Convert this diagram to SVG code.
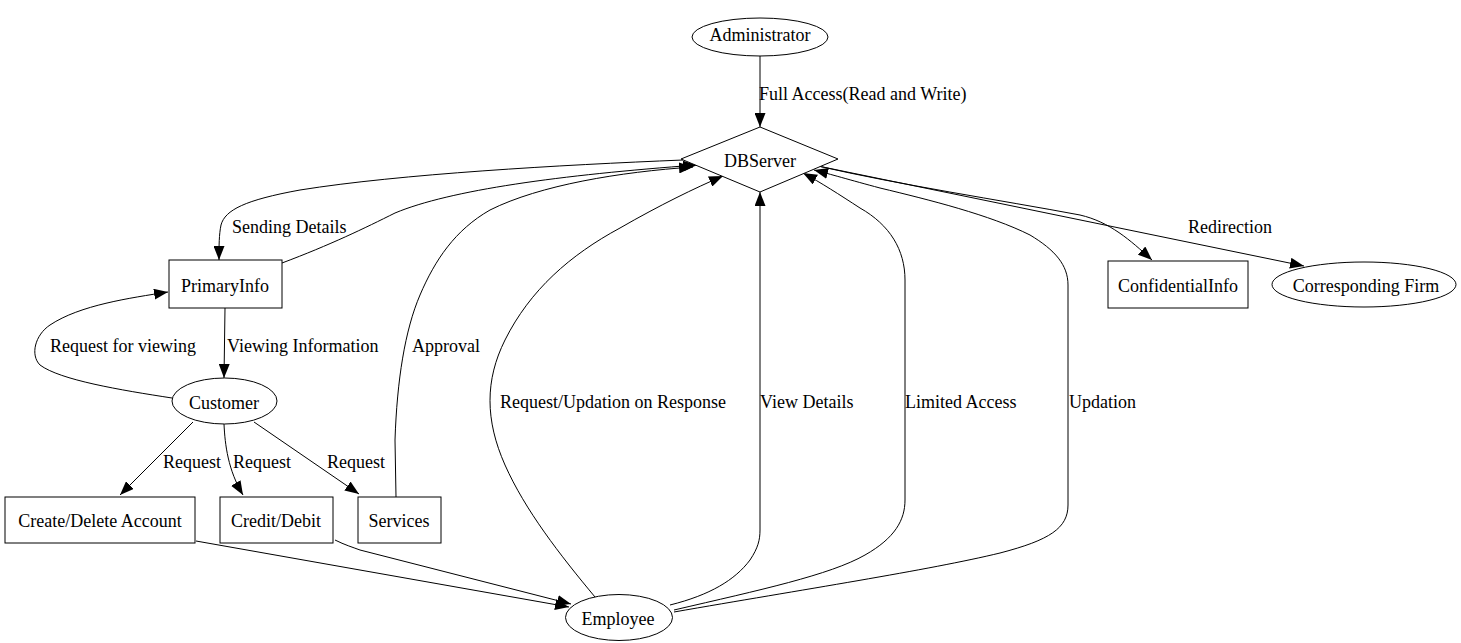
<svg xmlns="http://www.w3.org/2000/svg" width="1461" height="643" viewBox="0 0 1461 643">
<style>
.n{fill:#fff;stroke:#000;stroke-width:1}
.t{font-family:"Liberation Serif","Times New Roman",serif;font-size:18px;fill:#000}
.m{text-anchor:middle}
.e{fill:none;stroke:#000;stroke-width:1;marker-end:url(#ah)}
.e0{fill:none;stroke:#000;stroke-width:1}
</style>
<defs>
<marker id="ah" markerUnits="userSpaceOnUse" markerWidth="14" markerHeight="11" refX="14" refY="5.5" orient="auto">
<path d="M0,0 L14,5.5 L0,11 z" fill="#000"/>
</marker>
</defs>
<rect width="1461" height="643" fill="#fff"/>
<g id="connectors">
<path class="e" d="M760,56 L760,127"/>
<path class="e" d="M683,160 C560,165 400,174 300,190 C245,200 225,210 221,225 C219,235 219,245 219,260"/>
<path class="e" d="M282,263 C330,245 365,228 395,213 C450,190 560,175 697,165"/>
<path class="e" d="M396,497 L395,440 C397,380 405,330 420,295 C435,260 455,230 490,210 C540,185 620,172 693,167"/>
<path class="e" d="M172,398 C120,390 60,380 40,365 C30,355 35,335 50,325 C80,305 130,298 168,292"/>
<path class="e" d="M225,308 L224,378"/>
<path class="e" d="M193,422 L120,495"/>
<path class="e" d="M224,424 C225,445 228,470 243,495"/>
<path class="e" d="M254,422 L359,494"/>
<path class="e" d="M196,541 L569,607"/>
<path class="e" d="M335,540 C345,545 352,547 360,550 L571,604"/>
<path class="e" d="M595,597 C560,555 525,510 505,465 C485,420 485,380 505,340 C530,290 570,255 620,228 C660,205 695,188 723,176"/>
<path class="e" d="M670,605 C710,595 735,580 750,560 C758,548 760,540 760,530 L760,192"/>
<path class="e" d="M674,610 C760,590 830,575 865,555 C895,538 905,520 905,500 L905,280 C905,250 890,225 860,208 C840,195 820,182 803,173"/>
<path class="e" d="M674,612 C800,590 930,570 1000,553 C1050,540 1068,528 1068,505 L1068,285 C1068,265 1055,250 1030,235 C990,215 930,200 880,188 C850,180 830,174 814,170"/>
<path class="e" d="M818,166 C900,185 1000,200 1080,215 C1110,222 1130,240 1152,260"/>
<path class="e" d="M818,166 L1304,266"/>
<text class="t" x="759" y="100">Full Access(Read and Write)</text>
<text class="t" x="232" y="233">Sending Details</text>
<text class="t" x="50" y="352">Request for viewing</text>
<text class="t" x="227" y="352">Viewing Information</text>
<text class="t" x="412" y="352">Approval</text>
<text class="t" x="163" y="468">Request</text>
<text class="t" x="233" y="468">Request</text>
<text class="t" x="327" y="468">Request</text>
<text class="t" x="500" y="408">Request/Updation on Response</text>
<text class="t" x="760" y="408">View Details</text>
<text class="t" x="905" y="408">Limited Access</text>
<text class="t" x="1069" y="408">Updation</text>
<text class="t" x="1188" y="233">Redirection</text>
</g>
<g id="Administrator"><ellipse class="n" cx="760" cy="37" rx="68" ry="19"/><text class="t m" x="760" y="41">Administrator</text></g>
<g id="DBServer"><path class="n" d="M760,127 L838,159 L760,192 L681,159 z"/><text class="t m" x="760" y="167">DBServer</text></g>
<g id="PrimaryInfo"><rect class="n" x="169" y="260" width="113" height="48"/><text class="t m" x="225" y="292">PrimaryInfo</text></g>
<g id="Customer"><ellipse class="n" cx="224.5" cy="401" rx="52.5" ry="23"/><text class="t m" x="224" y="409">Customer</text></g>
<g id="CreateDelete"><rect class="n" x="5" y="497" width="190" height="46"/><text class="t m" x="100" y="527">Create/Delete Account</text></g>
<g id="CreditDebit"><rect class="n" x="220" y="497" width="113" height="46"/><text class="t m" x="276" y="527">Credit/Debit</text></g>
<g id="Services"><rect class="n" x="358" y="497" width="83" height="46"/><text class="t m" x="399" y="527">Services</text></g>
<g id="Employee"><ellipse class="n" cx="619" cy="617.5" rx="53.5" ry="23"/><text class="t m" x="618" y="625">Employee</text></g>
<g id="ConfidentialInfo"><rect class="n" x="1108" y="261" width="140" height="47"/><text class="t m" x="1178" y="292">ConfidentialInfo</text></g>
<g id="CorrespondingFirm"><ellipse class="n" cx="1364" cy="284.5" rx="92" ry="22.5"/><text class="t m" x="1366" y="292">Corresponding Firm</text></g>
</svg>
